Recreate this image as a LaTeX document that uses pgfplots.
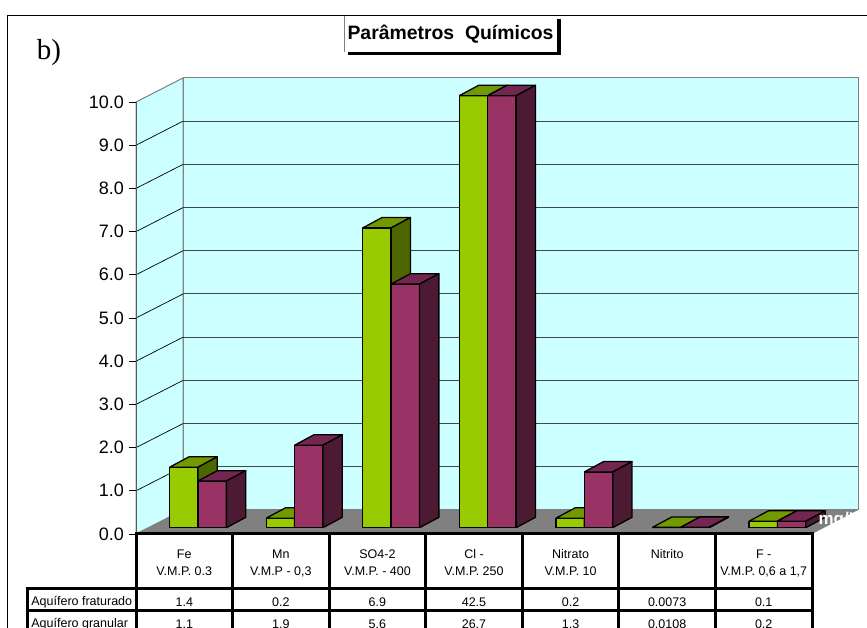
\documentclass[border=0pt]{standalone}
\usepackage{pgfplots}
\pgfplotsset{compat=1.18}
\usepackage{fontspec}
\setmainfont{Liberation Sans}
\newfontfamily\timesfont{Liberation Serif}

\definecolor{wallcol}{HTML}{CCFFFF}
\definecolor{floorcol}{HTML}{808080}
\definecolor{gridcol}{HTML}{404848}
\definecolor{greenfront}{HTML}{99CC00}
\definecolor{greentop}{HTML}{739900}
\definecolor{greenside}{HTML}{4D6600}
\definecolor{purpfront}{HTML}{993366}
\definecolor{purptop}{HTML}{732650}
\definecolor{purpside}{HTML}{4D1A33}

% one 3d column: left x, value, three face colours
\newcommand{\column}[5]{%
  \pgfmathsetmacro{\xa}{#1}%
  \pgfmathsetmacro{\xb}{#1+0.294}%
  \pgfmathsetmacro{\xc}{#1+0.294+0.2}%
  \pgfmathsetmacro{\xd}{#1+0.2}%
  \pgfmathsetmacro{\ya}{0.146}%
  \pgfmathsetmacro{\yb}{0.146+min(#2,10)}%
  \pgfmathsetmacro{\yc}{\yb+0.24}%
  \pgfmathsetmacro{\yd}{\ya+0.24}%
  \addplot[draw=black,line width=1.3pt,line join=round,fill=#3] coordinates {(\xa,\ya) (\xb,\ya) (\xb,\yb) (\xa,\yb) (\xa,\ya)};
  \addplot[draw=black,line width=1.3pt,line join=round,fill=#4] coordinates {(\xa,\yb) (\xb,\yb) (\xc,\yc) (\xd,\yc) (\xa,\yb)};
  \addplot[draw=black,line width=1.3pt,line join=round,fill=#5] coordinates {(\xb,\ya) (\xc,\yd) (\xc,\yc) (\xb,\yb) (\xb,\ya)};
}
% one category: index, heights of the two columns, the two table entries
\newcommand{\category}[5]{%
  \column{#1+0.142-0.294}{#2}{greenfront}{greentop}{greenside}
  \column{#1+0.142}{#3}{purpfront}{purptop}{purpside}
  \node[font=\fontsize{12.5}{14}\selectfont] at (axis cs:#1,-1.58) {#4};
  \node[font=\fontsize{12.5}{14}\selectfont] at (axis cs:#1,-2.09) {#5};
}

\begin{document}
\begin{tikzpicture}
\useasboundingbox (0,0) rectangle (867pt,628pt);
\fill[white] (0,0) rectangle (867pt,628pt);

% walls and floor, in pixels of the reference
\begin{scope}[shift={(0,628pt)},x=1pt,y=-1pt]
  \draw[black,line width=1.2pt] (7.5,628) -- (7.5,15.5) -- (867,15.5);
  \filldraw[fill=wallcol,draw=floorcol,line width=1pt] (183,78) rectangle (858,510);
  \filldraw[fill=wallcol,draw=floorcol,line width=1pt] (136,534) -- (136,102) -- (183,78) -- (183,510) -- cycle;
  \foreach \k in {1,...,9} {
    \draw[black,line width=0.7pt] (136,{534-43.2*\k}) -- (183,{510-43.2*\k});
    \draw[gridcol,line width=1pt] (183,{510-43.2*\k}) -- (858,{510-43.2*\k});
  }
  \fill[floorcol] (136,534) -- (812,534) -- (858,510) -- (183,510) -- cycle;
\end{scope}

\begin{axis}[
  at={(136pt,94pt)}, anchor=south west,
  scale only axis,
  width=676pt, height=432pt,
  xmin=-0.5, xmax=6.5,
  ymin=0, ymax=10,
  clip=false,
  axis x line=bottom,
  axis y line=left,
  axis line style={-},
  x axis line style={draw=none},
  y axis line style={draw=floorcol!70!black,line width=1pt},
  ytick={0,1,...,10},
  yticklabel style={/pgf/number format/fixed,/pgf/number format/fixed zerofill,/pgf/number format/precision=1,/pgf/number format/assume math mode=true,font=\fontsize{18}{20}\selectfont,xshift=-1pt},
  y tick style={draw=black,line width=0.9pt},
  tick align=outside,
  major tick length=7.5pt,
  xtick={0,...,6},
  xticklabels={{Fe\\V.M.P. 0.3},{Mn\\V.M.P - 0,3},{SO4-2\\V.M.P. - 400},{Cl -\\V.M.P. 250},{Nitrato\\V.M.P. 10},{Nitrito},{F -\\V.M.P. 0,6 a 1,7}},
  x tick style={draw=none},
  xticklabel style={align=center,font=\fontsize{12.5}{17}\selectfont,anchor=north,yshift=-4.5pt},
]
\category{0}{1.4}{1.08}{1.4}{1.1}
\category{1}{0.22}{1.91}{0.2}{1.9}
\category{2}{6.94}{5.64}{6.9}{5.6}
\category{3}{42.5}{26.7}{42.5}{26.7}
\category{4}{0.22}{1.29}{0.2}{1.3}
\category{5}{0.0073}{0.0108}{0.0073}{0.0108}
\category{6}{0.15}{0.15}{0.1}{0.2}
\node[font=\fontsize{12.5}{14}\selectfont,anchor=west] at (axis cs:-1.62,-1.58) {Aquífero fraturado};
\node[font=\fontsize{12.5}{14}\selectfont,anchor=west] at (axis cs:-1.62,-2.09) {Aquífero granular};
\end{axis}

\begin{scope}[shift={(0,628pt)},x=1pt,y=-1pt]
  % table rules
  \draw[black,line width=3pt] (134.5,534) -- (813.5,534);
  \draw[black,line width=3pt] (25.5,589) -- (813.5,589);
  \draw[black,line width=3pt] (25.5,611) -- (813.5,611);
  \draw[black,line width=3pt] (27,589) -- (27,640);
  \foreach \k in {0,...,7}
    \draw[black,line width=3pt] ({136+96.57*\k},534) -- ({136+96.57*\k},640);
  % unit label, only seen on the floor
  \begin{scope}
    \clip (136,534) -- (812,534) -- (858,510) -- (183,510) -- cycle;
    \node[white,anchor=base west,font=\bfseries\fontsize{17}{19}\selectfont] at (815,525) {mg/L};
  \end{scope}
  % title box
  \fill[black] (347.5,19) rectangle (560.5,55.5);
  \fill[white] (344,16) rectangle (557,52);
  \draw[floorcol,line width=0.8pt] (344,52) -- (344,16);
  \draw[black,line width=1.2pt] (344,15.5) -- (557,15.5);
  \node[font=\bfseries\fontsize{19.4}{22}\selectfont] at (450.5,34) {Parâmetros\ \ Químicos};
  \node[font=\timesfont\fontsize{29}{32}\selectfont] at (49,53) {b)};
\end{scope}
\end{tikzpicture}
\end{document}
